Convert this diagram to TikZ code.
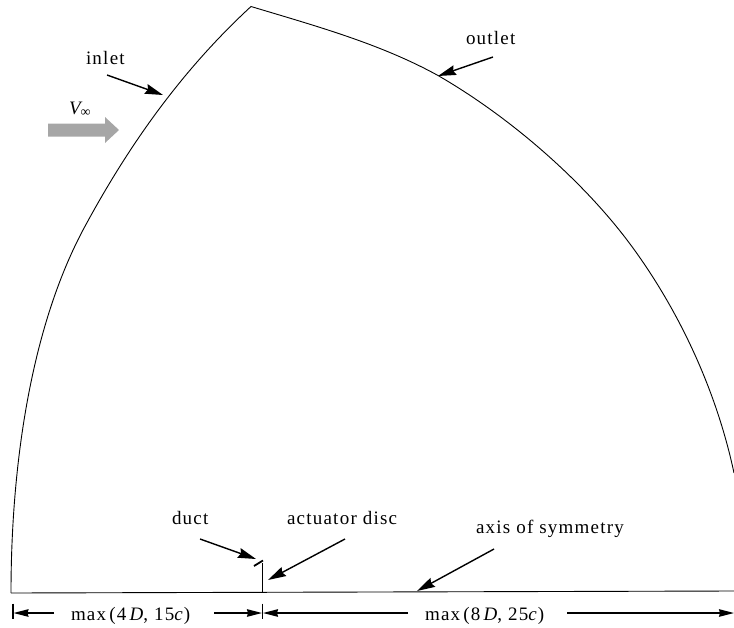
\documentclass[tikz,border=0pt]{standalone}
\usepackage{fontspec}
\setmainfont[LetterSpace=6.5]{Liberation Serif}
\usetikzlibrary{arrows.meta}
\tikzset{
  boundary/.style={draw=black,line width=0.9pt,line join=miter},
  pointer/.style={draw=black,line width=1.4pt,-{Stealth[length=18pt,width=10pt,inset=2pt]}},
  dim/.style={draw=black,line width=1.3pt,-{Stealth[length=15pt,width=7.5pt,inset=1pt]}},
  tick/.style={draw=black,line width=1.3pt},
  label/.style={anchor=base west,inner sep=0pt,outer sep=0pt,font=\fontsize{19}{22}\selectfont},
}
\begin{document}
\begin{tikzpicture}[x=1pt,y=-1pt]
\useasboundingbox (0,0) rectangle (734,627);
\begin{scope}
\clip (0,0) rectangle (734,627);
\coordinate (origin) at (11,593);
\coordinate (apex) at (251,6.5);
\coordinate (inletmid) at (83,230);
\coordinate (outletA) at (438,75.5);
\coordinate (outletB) at (633,248);
\coordinate (outletend) at (734,473);
\coordinate (axisend) at (734,591);
\coordinate (discfoot) at (262,593);
\coordinate (disctop) at (262,563);
\draw[boundary] (origin) .. controls (11,468) and (30,330) .. (inletmid)
  .. controls (127,148) and (180,72) .. (apex)
  .. controls (314,25.5) and (380,43.5) .. (outletA)
  .. controls (510,117) and (585,182) .. (outletB)
  .. controls (681,314) and (717,393) .. (outletend);
\draw[boundary] (origin) -- (axisend);
\draw[boundary] (disctop) -- (discfoot);
\end{scope}
\coordinate (ductA) at (254,566);
\coordinate (ductB) at (263,560.5);
\draw[line width=1.8pt,black] (ductA) -- (ductB);
% flow arrow
\fill[fill=black!35] (48,123.5) -- (105,123.5) -- (105,117) -- (119,130) -- (105,143) -- (105,136.5) -- (48,136.5) -- cycle;
% labels
\node[label] (inlet) at (86,64) {inlet};
\node[label] (outlet) at (466,44) {outlet};
\node[label] (duct) at (172,524) {duct};
\node[label] (disc) at (287,524) {actuator disc};
\node[label] (axis) at (476,533) {axis of symmetry};
\node[label] (vinf) at (69,114) {\textit{V}\hspace{-3pt}\raisebox{-2.5pt}{\fontsize{14}{14}\selectfont ∞}};
\node[label] (dimL) at (71,620) {max\,(4\,\textit{D}, 15\textit{c})};
\node[label] (dimR) at (425,620) {max\,(8\,\textit{D}, 25\textit{c})};
% pointers
\coordinate (p1a) at (107,75); \coordinate (p1b) at (163,95);
\coordinate (p2a) at (493,57); \coordinate (p2b) at (438,76);
\coordinate (p3a) at (200,539); \coordinate (p3b) at (256,559);
\coordinate (p4a) at (345,539); \coordinate (p4b) at (268,580);
\coordinate (p5a) at (494,549); \coordinate (p5b) at (417,591);
\draw[pointer] (p1a) -- (p1b);
\draw[pointer] (p2a) -- (p2b);
\draw[pointer] (p3a) -- (p3b);
\draw[pointer] (p4a) -- (p4b);
\draw[pointer] (p5a) -- (p5b);
% dimensions
\coordinate (t1a) at (13,603.5); \coordinate (t1b) at (13,619);
\coordinate (t2a) at (262.5,603.5); \coordinate (t2b) at (262.5,619);
\draw[tick] (t1a) -- (t1b);
\draw[tick] (t2a) -- (t2b);
\coordinate (d1s) at (54,613); \coordinate (d1e) at (13.5,613);
\coordinate (d2s) at (214,613); \coordinate (d2e) at (262,613);
\coordinate (d3s) at (408,613); \coordinate (d3e) at (263,613);
\coordinate (d4s) at (567,613); \coordinate (d4e) at (734,613);
\draw[dim] (d1s) -- (d1e);
\draw[dim] (d2s) -- (d2e);
\draw[dim] (d3s) -- (d3e);
\draw[dim] (d4s) -- (d4e);
\end{tikzpicture}
\end{document}
